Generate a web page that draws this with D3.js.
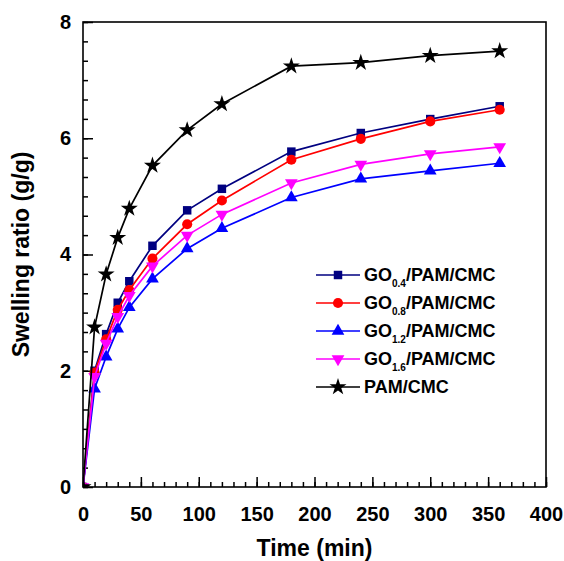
<!DOCTYPE html>
<meta charset="utf-8">
<script src="https://d3js.org/d3.v7.min.js"></script>
<style>
  body { margin: 0; background: #fff; }
  text { font-family: "Liberation Sans", Arial, sans-serif; font-weight: bold; }
</style>
<div id="chart"></div>
<script>
// time points (min)
var times = [0, 10, 20, 30, 40, 60, 90, 120, 180, 240, 300, 360]

// swelling ratio (g/g) for each sample
var go04 = [0, 2.00, 2.63, 3.17, 3.54, 4.15, 4.76, 5.13, 5.77, 6.09, 6.33, 6.55]
var go08 = [0, 1.97, 2.54, 3.05, 3.39, 3.93, 4.52, 4.93, 5.63, 5.99, 6.29, 6.49]
var go12 = [0, 1.69, 2.24, 2.72, 3.09, 3.58, 4.10, 4.45, 4.98, 5.30, 5.44, 5.57]
var go16 = [0, 1.90, 2.47, 2.93, 3.29, 3.80, 4.33, 4.69, 5.23, 5.55, 5.73, 5.85]
var pamCmc = [0, 2.75, 3.66, 4.29, 4.79, 5.53, 6.14, 6.59, 7.24, 7.30, 7.42, 7.50]

var xTicks = [0, 50, 100, 150, 200, 250, 300, 350, 400]
var yTicks = [0, 2, 4, 6, 8]

var series = [
  {sub: "0.4", values: go04, color: "#000080", symbol: d3.symbolSquare, size: 72, rot: 0},
  {sub: "0.8", values: go08, color: "#ff0000", symbol: d3.symbolCircle, size: 80, rot: 0},
  {sub: "1.2", values: go12, color: "#0000ff", symbol: d3.symbolTriangle, size: 70, rot: 0},
  {sub: "1.6", values: go16, color: "#ff00ff", symbol: d3.symbolTriangle, size: 70, rot: 180},
  {sub: null, values: pamCmc, color: "#000000", symbol: d3.symbolStar, size: 90, rot: 0}
]

var W = 564, H = 561
var margin = {top: 22, right: 18, bottom: 74, left: 83}
var w = W - margin.left - margin.right,
    h = H - margin.top - margin.bottom

var svg = d3.select("#chart").append("svg")
    .attr("width", W).attr("height", H)
var g = svg.append("g")
    .attr("transform", "translate(" + margin.left + "," + margin.top + ")")

var x = d3.scaleLinear().domain([0, 400]).range([0, w])
var y = d3.scaleLinear().domain([0, 8]).range([h, 0])

g.append("clipPath").attr("id", "clip")
  .append("rect").attr("width", w).attr("height", h)

// minor ticks
g.append("g").attr("transform", "translate(0," + h + ")")
  .call(d3.axisBottom(x).tickValues(d3.range(0, 401, 10)).tickSize(-5).tickFormat(""))
  .call(function(a) { a.select(".domain").remove() })
g.append("g")
  .call(d3.axisLeft(y).tickValues(d3.range(0, 8.01, 1/3)).tickSize(-5).tickFormat(""))
  .call(function(a) { a.select(".domain").remove() })

// major ticks with labels
var xa = g.append("g").attr("transform", "translate(0," + h + ")")
  .call(d3.axisBottom(x).tickValues(xTicks).tickSize(-10).tickPadding(20))
xa.select(".domain").remove()
xa.selectAll("text").style("font-size", "20px").attr("fill", "#000")

var ya = g.append("g")
  .call(d3.axisLeft(y).tickValues(yTicks).tickSize(-10).tickPadding(12))
ya.select(".domain").remove()
ya.selectAll("text").style("font-size", "20px").attr("fill", "#000")

g.selectAll(".tick line").attr("stroke", "#000").attr("stroke-width", 1.5)

// frame
g.append("rect").attr("width", w).attr("height", h)
  .attr("fill", "none").attr("stroke", "#000").attr("stroke-width", 1.6)

// series
var line = d3.line()
  .x(function(d, i) { return x(times[i]) })
  .y(function(d) { return y(d) })

var plot = g.append("g").attr("clip-path", "url(#clip)")
series.forEach(function(s) {
  plot.append("path").datum(s.values)
    .attr("d", line).attr("fill", "none")
    .attr("stroke", s.color).attr("stroke-width", 1.7)
  var sym = d3.symbol().type(s.symbol).size(s.size)
  plot.selectAll(null).data(s.values).enter().append("path")
    .attr("d", sym)
    .attr("transform", function(d, i) {
      return "translate(" + x(times[i]) + "," + y(d) + ") rotate(" + s.rot + ")"
    })
    .attr("fill", s.color)
})

// legend
var lg = g.append("g").attr("transform", "translate(233,253)")
series.forEach(function(s, i) {
  var row = lg.append("g").attr("transform", "translate(0," + (i * 28) + ")")
  row.append("line").attr("x1", 0).attr("x2", 44)
    .attr("stroke", s.color).attr("stroke-width", 1.7)
  row.append("path").attr("d", d3.symbol().type(s.symbol).size(s.size)())
    .attr("transform", "translate(22,0) rotate(" + s.rot + ")")
    .attr("fill", s.color)
  var t = row.append("text").attr("x", 48).attr("y", 6)
    .style("font-size", "18px").attr("fill", "#000")
  if (s.sub) {
    t.append("tspan").text("GO")
    t.append("tspan").text(s.sub).attr("dy", 6).style("font-size", "10px")
    t.append("tspan").text("/PAM/CMC").attr("dy", -6)
  } else {
    t.text("PAM/CMC")
  }
})

// axis titles
svg.append("text")
  .attr("x", margin.left + x(200)).attr("y", 556)
  .attr("text-anchor", "middle").style("font-size", "23px")
  .text("Time (min)")
svg.append("text")
  .attr("transform", "translate(29," + (margin.top + h / 2) + ") rotate(-90)")
  .attr("text-anchor", "middle").style("font-size", "23px")
  .text("Swelling ratio (g/g)")
</script>
